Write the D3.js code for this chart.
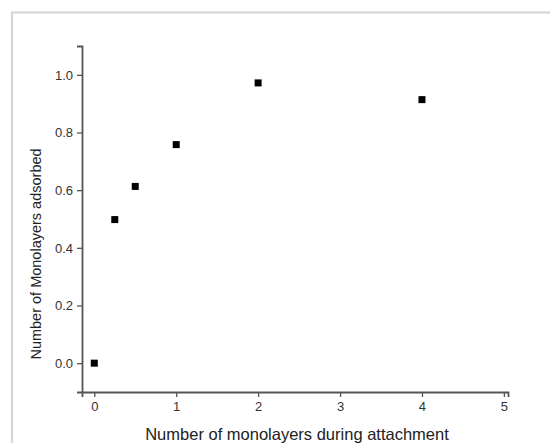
<!DOCTYPE html>
<html>
<head>
<meta charset="utf-8">
<script src="https://cdn.jsdelivr.net/npm/d3@7"></script>
<style>
  body { margin: 0; background: #fff; }
  svg { display: block; font-family: "Liberation Sans", Arial, sans-serif; }
</style>
</head>
<body>
<svg class="chart" width="550" height="443"></svg>
<script>
// Data
const xValues = [0, 0.25, 0.5, 1, 2, 4];
const yValues = [0, 0.498, 0.613, 0.758, 0.972, 0.914];
const xTicks = [0, 1, 2, 3, 4, 5];
const yTicks = [0, 0.2, 0.4, 0.6, 0.8, 1.0];
const xLabel = "Number of monolayers during attachment";
const yLabel = "Number of Monolayers adsorbed";

////////////////////////////////////////////////////////////
//// Setup /////////////////////////////////////////////////
////////////////////////////////////////////////////////////
const svg = d3.select(".chart");
const plot = { left: 82, right: 508, top: 46, bottom: 392 };

// light frame around the figure
svg.append("rect")
	.attr("x", 12)
	.attr("y", 12.5)
	.attr("width", 560)
	.attr("height", 460)
	.attr("fill", "none")
	.attr("stroke", "#d6d6d6")
	.attr("stroke-width", 2.2);

const x = d3.scaleLinear().domain([-0.15, 5.05]).range([plot.left, plot.right]);
const y = d3.scaleLinear().domain([-0.1, 1.1]).range([plot.bottom, plot.top]);

const axisColor = "#555";

// x axis
const gx = svg.append("g").attr("transform", `translate(0,${plot.bottom})`);
gx.call(d3.axisBottom(x).tickValues(d3.range(0.5, 5, 1)).tickSize(3).tickFormat(""));
gx.call(d3.axisBottom(x).tickValues(xTicks).tickSize(5).tickPadding(5).tickFormat(d3.format("d")));

// y axis
const gy = svg.append("g").attr("transform", `translate(${plot.left},0)`);
gy.call(d3.axisLeft(y).tickValues(d3.range(0.1, 1.1, 0.2)).tickSize(3).tickFormat(""));
gy.call(d3.axisLeft(y).tickValues(yTicks).tickSize(5).tickPadding(4).tickFormat(d3.format(".1f")));

svg.selectAll(".domain")
	.attr("stroke", axisColor)
	.attr("stroke-width", 1.8);
svg.selectAll(".tick line")
	.attr("stroke", axisColor)
	.attr("stroke-width", 1.3);
svg.selectAll(".tick text")
	.attr("fill", "#333")
	.attr("font-size", 13)
	.style("font-size", "13px")
	.style("font-family", "'Liberation Sans', Arial, sans-serif");

// axis titles
svg.append("text")
	.attr("x", 297)
	.attr("y", 440)
	.attr("text-anchor", "middle")
	.attr("fill", "#222")
	.style("font-size", "16.5px")
	.text(xLabel);

svg.append("text")
	.attr("transform", "translate(41,254) rotate(-90)")
	.attr("text-anchor", "middle")
	.attr("fill", "#222")
	.style("font-size", "14.5px")
	.text(yLabel);

////////////////////////////////////////////////////////////
//// Points ////////////////////////////////////////////////
////////////////////////////////////////////////////////////
const pts = xValues.map((v, i) => ({ x: v, y: yValues[i] }));
const size = 7;
svg.append("g")
	.selectAll("rect")
	.data(pts)
	.join("rect")
	.attr("x", d => x(d.x) - size / 2)
	.attr("y", d => y(d.y) - size / 2)
	.attr("width", size)
	.attr("height", size)
	.attr("fill", "#000");
</script>
</body>
</html>
